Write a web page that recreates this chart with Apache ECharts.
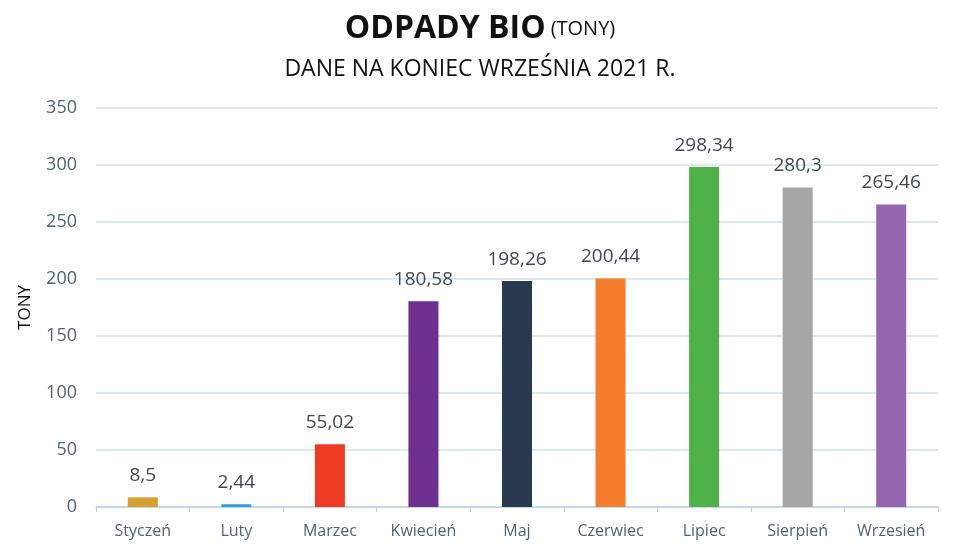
<!DOCTYPE html>
<html>
<head>
<meta charset="utf-8">
<script src="https://cdn.jsdelivr.net/npm/echarts@6/dist/echarts.min.js"></script>
<style>
  html, body { margin: 0; padding: 0; background: #fff; }
  #chart { width: 960px; height: 544px; }
</style>
</head>
<body>
<div id="chart"></div>
<script>
var months = ['Styczeń', 'Luty', 'Marzec', 'Kwiecień', 'Maj', 'Czerwiec', 'Lipiec', 'Sierpień', 'Wrzesień'];
var tony = [8.5, 2.44, 55.02, 180.58, 198.26, 200.44, 298.34, 280.3, 265.46];
var barColors = ['#d4a12e', '#2f9ddf', '#ee3b24', '#6c2f92', '#27384f', '#f47d2b', '#4eb148', '#a6a6a6', '#9565ad'];

var chart = echarts.init(document.getElementById('chart'));
var font = '"Open Sans", "DejaVu Sans", sans-serif';

chart.setOption({
    animation: false,
    title: [{
        text: '{b|ODPADY BIO} {s|(TONY)}',
        left: 'center',
        top: 8,
        textStyle: {
            rich: {
                b: { fontFamily: font, fontWeight: 'bold', fontSize: 32, color: '#111' },
                s: { fontFamily: font, fontWeight: 'normal', fontSize: 20, color: '#111' }
            }
        }
    }, {
        text: 'DANE NA KONIEC WRZEŚNIA 2021 R.',
        left: 'center',
        top: 53,
        textStyle: { fontFamily: font, fontWeight: 'normal', fontSize: 23, color: '#111' }
    }],
    grid: { left: 96, right: 22, top: 108, bottom: 37 },
    xAxis: {
        type: 'category',
        data: months,
        axisLine: { lineStyle: { color: '#b9d3e3', width: 1.5 } },
        axisTick: { show: true, alignWithLabel: false, length: 5, lineStyle: { color: '#b9d3e3' } },
        axisLabel: { interval: 0, fontFamily: font, fontSize: 16, color: '#4f6470', margin: 16 }
    },
    yAxis: {
        type: 'value',
        min: 0,
        max: 350,
        interval: 50,
        name: 'TONY',
        nameLocation: 'middle',
        nameGap: 62,
        nameTextStyle: { fontFamily: font, fontSize: 17, color: '#111' },
        axisLine: { show: false },
        axisTick: { show: false },
        axisLabel: { fontFamily: font, fontSize: 18, color: '#4f6470', margin: 19 },
        splitLine: { lineStyle: { color: '#cfe0ea', width: 1.5 } }
    },
    series: [{
        type: 'bar',
        data: tony.map(function(v, i) {
            return { value: v, itemStyle: { color: barColors[i] } };
        }),
        barWidth: 30,
        label: {
            show: true,
            position: 'top',
            distance: 12,
            fontFamily: font,
            fontSize: 19,
            color: '#3d4a52',
            formatter: function(p) { return String(p.value).replace('.', ','); }
        }
    }]
});
</script>
</body>
</html>
